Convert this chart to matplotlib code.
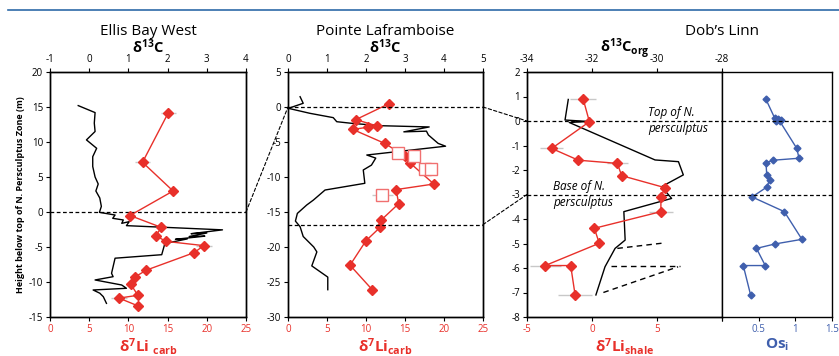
import numpy as np
import matplotlib
matplotlib.use('Agg')
import matplotlib.pyplot as plt
from matplotlib.patches import ConnectionPatch
from matplotlib.lines import Line2D

plt.rcParams['font.family'] = ['Open Sans', 'DejaVu Sans']
plt.rcParams['mathtext.fontset'] = 'custom'
plt.rcParams['mathtext.rm'] = 'Open Sans'
plt.rcParams['mathtext.bf'] = 'Open Sans:bold'
plt.rcParams['mathtext.it'] = 'Open Sans:italic'
plt.rcParams['axes.unicode_minus'] = False

RED = '#e8302a'
BLUE = '#3f5fad'

# Ellis Bay West
ebw_h = [14.2, 7.1, 3.0, -0.5, -2.2, -3.4, -4.2, -4.8, -5.8, -8.3, -9.3, -10.3, -11.9, -12.3, -13.4]
ebw_li = [15.1, 11.8, 15.7, 10.2, 14.2, 13.5, 14.8, 19.6, 18.4, 12.3, 10.8, 10.3, 11.2, 8.8, 11.2]
ebw_li_err = [1.0, 1.0, 0.4, 0, 0, 0, 0, 1.0, 0.5, 0, 0, 0, 0, 1.0, 0]
ebw_c_h = [15.2, 14.2, 12.7, 11.5, 10.3, 9.1, 7.9, 6.5, 5.0, 4.0, 3.0, 2.0, 0.8, -0.05, -0.43, -0.9,
           -1.14, -1.62, -1.38, -1.95, -2.55, -3.1, -3.0, -3.5, -3.45, -3.9, -3.85, -4.5, -6.1, -6.6,
           -8.76, -9.24, -9.71, -10.43, -10.9, -11.14, -11.6, -12.1, -13.05]
ebw_c = [-0.28, 0.15, 0.13, 0.15, -0.07, 0.19, 0.09, 0.09, 0.15, 0.23, 0.17, 0.27, 0.31, 0.26, 0.66, 0.6,
         0.87, 0.83, 1.02, 0.95, 3.4, 2.6, 3.0, 2.55, 2.95, 2.2, 2.5, 1.93, 1.85, 0.66,
         0.57, 0.61, 0.15, 0.83, 0.95, 0.10, 0.27, 0.36, 0.44]

# Pointe Laframboise
pl_h = [0.5, -1.8, -2.7, -2.9, -3.2, -5.2, -7.0, -7.95, -11.0, -11.8, -13.8, -16.2, -17.2, -19.1, -22.6, -26.1]
pl_li = [13.0, 8.7, 11.4, 10.2, 8.3, 12.4, 15.0, 15.6, 18.7, 13.85, 14.2, 11.9, 11.8, 10.0, 7.95, 10.8]
pl_sq_h = [-6.6, -7.0, -8.9, -8.9, -12.5]
pl_sq_li = [14.1, 16.2, 17.6, 18.3, 12.1]
pl_sq_err = [0, 0, 0, 0, 1.3]
pl_c_h = [1.47, 0.53, -0.19, -0.9, -1.52, -2.1, -2.33, -2.67, -2.85, -3.55, -3.45, -4.0, -5.2, -5.6,
          -6.86, -7.3, -8.3, -9.0, -10.9, -11.86, -13.3, -14.0, -15.2, -16.3, -17.1, -18.5, -20.0,
          -20.7, -22.7, -24.3, -26.1]
pl_c = [0.31, 0.39, 0.01, 0.56, 1.16, 1.25, 1.63, 2.36, 3.62, 2.97, 3.55, 3.6, 3.85, 4.04,
        2.02, 2.25, 2.14, 1.93, 1.97, 0.95, 0.65, 0.48, 0.24, 0.19, 0.31, 0.39, 0.66,
        0.74, 0.61, 1.02, 1.02]

# Dob's Linn
dl_h = [0.88, -0.03, -1.12, -1.6, -1.73, -2.23, -2.72, -3.12, -3.7, -4.38, -4.99, -5.9, -5.9, -7.1]
dl_li = [-0.67, -0.2, -3.1, -1.05, 1.95, 2.28, 5.6, 5.3, 5.3, 0.18, 0.56, -3.6, -1.64, -1.3]
dl_li_err = [1.0, 0, 0.9, 0, 0.8, 0, 0, 0, 0.9, 0, 0, 1.2, 0, 1.3]
dl_c_h = [0.88, 0.04, -0.02, -0.06, -1.59, -1.66, -2.2, -2.68, -3.16, -3.7, -4.86, -5.2, -5.95, -7.1]
dl_c = [-32.73, -32.83, -32.11, -32.7, -30.06, -29.34, -29.19, -29.86, -29.55, -31.02, -30.98, -31.29, -31.6, -31.88]
dl_dash_c = [[-31.22, -29.86], [-31.4, -29.3], [-31.65, -29.35]]
dl_dash_h = [[-5.2, -4.99], [-5.9, -5.9], [-7.0, -5.95]]
os_h = [0.88, 0.11, 0.01, 0.08, 0.04, -0.02, -1.12, -1.52, -1.6, -1.7, -2.2, -2.4, -2.7, -3.1, -3.7,
        -4.83, -5.02, -5.2, -5.9, -5.9, -7.1]
os_v = [0.60, 0.72, 0.74, 0.77, 0.80, 0.79, 1.02, 1.05, 0.70, 0.60, 0.61, 0.65, 0.61, 0.41, 0.85,
        1.09, 0.72, 0.47, 0.59, 0.29, 0.39]

W, H = 839, 356
fig = plt.figure(figsize=(W / 100, H / 100), dpi=100)


def box(l, r, top=72, bot=317):
    return [l / W, (H - bot) / H, (r - l) / W, (bot - top) / H]


def style(ax):
    ax.tick_params(direction='out', length=3, width=0.8, labelsize=7, pad=2)
    for s in ax.spines.values():
        s.set_linewidth(1.0)


def red_ticks(ax):
    ax.tick_params(axis='x', colors='k', labelcolor=RED)


dash = dict(color='k', lw=0.9, ls=(0, (3, 2)))

# ---- panel 1
ax1 = fig.add_axes(box(50, 246))
ax1t = ax1.twiny()
ax1.set_zorder(ax1t.get_zorder() + 1)
ax1.patch.set_visible(False)
ax1t.plot(ebw_c, ebw_c_h, color='k', lw=1.0)
ax1.errorbar(ebw_li, ebw_h, xerr=ebw_li_err, fmt='-D', color=RED, ms=5.5, lw=1.0,
             ecolor='#c8c8c8', elinewidth=1.0, capsize=0)
ax1.axhline(0, **dash)
ax1.set_xlim(0, 25)
ax1.set_ylim(-15, 20)
ax1.set_yticks(np.arange(-15, 21, 5))
ax1t.set_xlim(-1, 4)
ax1t.set_xticks(range(-1, 5))
ax1.set_xticks(range(0, 26, 5))
for a in (ax1, ax1t):
    style(a)
red_ticks(ax1)
ax1.set_ylabel('Height below top of N. Persculptus Zone (m)', fontsize=6.5, fontweight='bold', labelpad=3)
ax1.set_xlabel(r'$\mathbf{δ^{7}Li\ _{carb}}$', color=RED, fontsize=11, labelpad=1)
ax1t.set_xlabel(r'$\mathbf{δ^{13}C}$', fontsize=10.5, labelpad=1)
ax1.text(0.5, 1.135, 'Ellis Bay West', transform=ax1.transAxes, ha='center', va='bottom', fontsize=11)

# ---- panel 2
ax2 = fig.add_axes(box(288, 483))
ax2t = ax2.twiny()
ax2.set_zorder(ax2t.get_zorder() + 1)
ax2.patch.set_visible(False)
ax2t.plot(pl_c, pl_c_h, color='k', lw=1.0)
ax2.plot(pl_li, pl_h, '-D', color=RED, ms=5.5, lw=1.0)
ax2.errorbar(pl_sq_li, pl_sq_h, xerr=pl_sq_err, fmt='s', mfc='white', mec='#f07070', ms=8, mew=1.0,
             ecolor='#c8c8c8', elinewidth=1.0, capsize=0)
ax2.axhline(0, **dash)
ax2.axhline(-16.8, **dash)
ax2.set_xlim(0, 25)
ax2.set_ylim(-30, 5)
ax2.set_yticks(np.arange(-30, 6, 5))
ax2.set_xticks(range(0, 26, 5))
ax2t.set_xlim(0, 5)
ax2t.set_xticks(range(0, 6))
for a in (ax2, ax2t):
    style(a)
red_ticks(ax2)
ax2.set_xlabel(r'$\mathbf{δ^{7}Li_{carb}}$', color=RED, fontsize=11, labelpad=1)
ax2t.set_xlabel(r'$\mathbf{δ^{13}C}$', fontsize=10.5, labelpad=1)
ax2.text(0.5, 1.135, 'Pointe Laframboise', transform=ax2.transAxes, ha='center', va='bottom', fontsize=11)

# ---- panel 3
ax3 = fig.add_axes(box(527, 722))
ax3t = ax3.twiny()
ax3.set_zorder(ax3t.get_zorder() + 1)
ax3.patch.set_visible(False)
ax3t.plot(dl_c, dl_c_h, color='k', lw=1.0)
for c, h in zip(dl_dash_c, dl_dash_h):
    ax3t.plot(c, h, color='k', lw=1.0, ls=(0, (4, 3)))
ax3.errorbar(dl_li, dl_h, xerr=dl_li_err, fmt='-D', color=RED, ms=5.5, lw=1.0,
             ecolor='#c8c8c8', elinewidth=1.0, capsize=0)
ax3.axhline(0, **dash)
ax3.axhline(-3, **dash)
ax3.set_xlim(-5, 10)
ax3.set_xticks([-5, 0, 5, 10])
ax3.set_xticklabels(['-5', '0', '5', ''])
ax3.set_ylim(-8, 2)
ax3.set_yticks(range(-8, 3))
ax3t.set_xlim(-34, -28)
ax3t.set_xticks(range(-34, -27, 2))
for a in (ax3, ax3t):
    style(a)
red_ticks(ax3)
ax3.set_xlabel(r'$\mathbf{δ^{7}Li_{shale}}$', color=RED, fontsize=11, labelpad=1)
ax3t.set_xlabel(r'$\mathbf{δ^{13}C_{org}}$', fontsize=10.5, labelpad=1)
ax3.text(4.3, 0.02, 'Top of N.\npersculptus', style='italic', fontsize=8.5, va='center', ha='left',
         linespacing=1.35)
ax3.text(-3.0, -3.0, 'Base of N.\npersculptus', style='italic', fontsize=8.5, va='center', ha='left',
         linespacing=1.35)

ax4 = fig.add_axes(box(722, 832), sharey=ax3)
ax4.plot(os_v, os_h, '-D', color=BLUE, ms=3.5, lw=1.0)
ax4.axhline(0, **dash)
ax4.axhline(-3, **dash)
ax4.set_xlim(0, 1.5)
ax4.set_xticks([0, 0.5, 1, 1.5])
ax4.set_xticklabels(['', '0.5', '1', '1.5'])
ax4.spines['left'].set_visible(False)
style(ax4)
ax4.tick_params(axis='y', left=False, labelleft=False)
ax4.tick_params(axis='x', labelcolor=BLUE)
ax4.set_xlabel(r'$\mathbf{Os_{i}}$', color=BLUE, fontsize=11, labelpad=1)
ax4.text(0.0, 1.135, "Dob\u2019s Linn", transform=ax4.transAxes, ha='center', va='bottom', fontsize=11)

# connectors between sections
for (xa, ya, axa), (xb, yb, axb) in [((25, 0, ax1), (0, 0, ax2)),
                                     ((25.5, -15, ax1), (0, -16.8, ax2)),
                                     ((25, 0, ax2), (-5, 0, ax3)),
                                     ((25, -16.8, ax2), (-5, -3, ax3))]:
    cp = ConnectionPatch(xyA=(xa, ya), coordsA='data', axesA=axa,
                         xyB=(xb, yb), coordsB='data', axesB=axb,
                         color='k', lw=0.8, ls=(0, (3, 2)))
    fig.add_artist(cp)

fig.add_artist(Line2D([0.01, 1.0], [1 - 10 / H, 1 - 10 / H], transform=fig.transFigure,
                      color='#2e6aa8', lw=1.2))

fig.savefig('out.png', dpi=100)
